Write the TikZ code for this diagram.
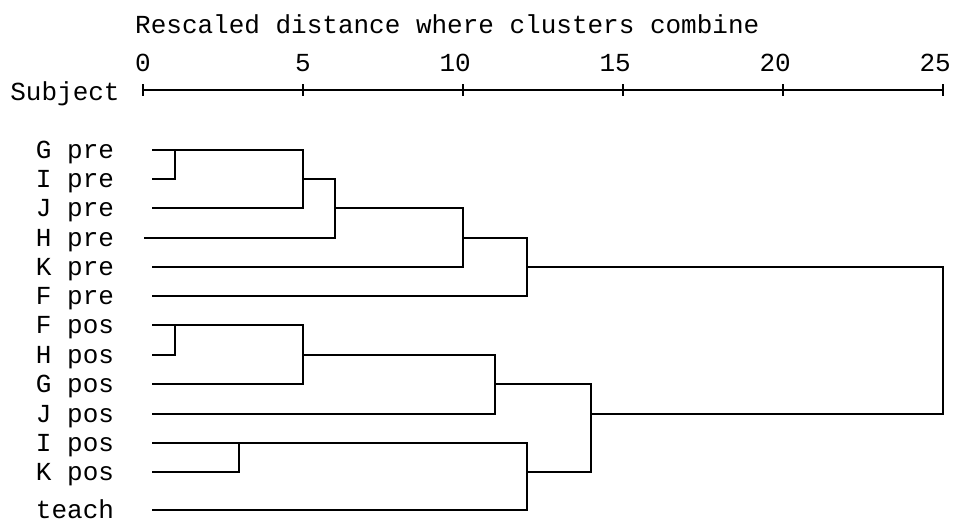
\documentclass[tikz,border=0pt]{standalone}
\usepackage{fontspec}
\setmainfont{Liberation Mono}
\begin{document}
\begin{tikzpicture}[x=1pt,y=-1pt,
  txt/.style={font=\fontsize{26}{30}\selectfont, inner sep=0pt, outer sep=0pt},
  lab/.style={txt, anchor=base east},
  tree/.style={line width=2pt, line join=miter, line cap=butt},
  tick/.style={line width=2pt}]
\useasboundingbox (0,0) rectangle (953,522);
% rows
\foreach \n/\t/\y/\s in {gpre/G pre/150/152, ipre/I pre/179/152, jpre/J pre/208/152,
  hpre/H pre/238/144, kpre/K pre/267/152, fpre/F pre/296/152,
  fpos/F pos/325/152, hpos/H pos/355/152, gpos/G pos/384/152,
  jpos/J pos/414/152, ipos/I pos/443/152, kpos/K pos/472/152, teach/teach/510/152}{
  \node[lab] (\n) at (114,\y+8) {\t};
  \coordinate (\n-s) at (\s,\y);
}
% axis
\node[txt, anchor=base west] (title) at (135.2,33) {Rescaled distance where clusters combine};
\node[txt, anchor=base east] (subj) at (119.6,100) {Subject};
\foreach \v/\px in {0/143,5/303,10/463,15/623,20/783,25/943}{
  \coordinate (t\v) at (\px,90);
  \node[txt, anchor=base east] (n\v) at (\px+7.8,71.5) {\v};
  \draw[tick] (\px,84) -- (\px,96);
}
\draw[tick] (t0) -- (t25);
% merge points (x = rescaled distance, y = output row)
\coordinate (m1) at (175,150);
\coordinate (m2) at (303,179);
\coordinate (m3) at (335,208);
\coordinate (m4) at (463,238);
\coordinate (m5) at (527,267);
\coordinate (m6) at (175,325);
\coordinate (m7) at (303,355);
\coordinate (m8) at (495,384);
\coordinate (m9) at (239,443);
\coordinate (m10) at (527,472);
\coordinate (m11) at (591,414);
\coordinate (m12) at (943,340);
% tree
\draw[tree] (gpre-s) -| (m1 |- ipre-s) -- (ipre-s);
\draw[tree] (m1) -| (m2 |- jpre-s) -- (jpre-s);
\draw[tree] (m2) -| (m3 |- hpre-s) -- (hpre-s);
\draw[tree] (m3) -| (m4 |- kpre-s) -- (kpre-s);
\draw[tree] (m4) -| (m5 |- fpre-s) -- (fpre-s);
\draw[tree] (fpos-s) -| (m6 |- hpos-s) -- (hpos-s);
\draw[tree] (m6) -| (m7 |- gpos-s) -- (gpos-s);
\draw[tree] (m7) -| (m8 |- jpos-s) -- (jpos-s);
\draw[tree] (ipos-s) -| (m9 |- kpos-s) -- (kpos-s);
\draw[tree] (m9) -| (m10 |- teach-s) -- (teach-s);
\draw[tree] (m8) -| (m11 |- m10) -- (m10);
\draw[tree] (m5) -| (m12 |- m11) -- (m11);
\end{tikzpicture}
\end{document}
